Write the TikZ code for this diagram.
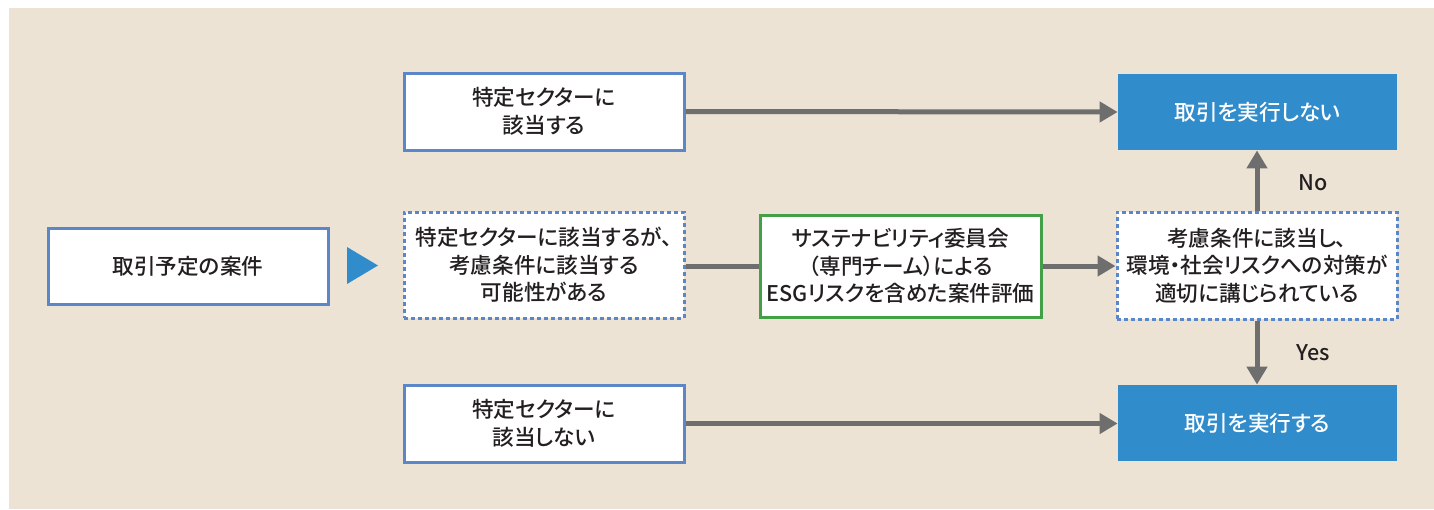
\documentclass[tikz,border=0pt]{standalone}
\usepackage{fontspec}
\setmainfont{Noto Sans CJK JP}[UprightFont=* Medium, RawFeature=+palt]
\usetikzlibrary{arrows.meta}
\definecolor{bg}{HTML}{EDE3D5}
\definecolor{bbord}{HTML}{5B87C8}
\definecolor{bfill}{HTML}{318CCB}
\definecolor{gbord}{HTML}{44A047}
\definecolor{arr}{HTML}{6E6E6E}
\definecolor{txt}{HTML}{231F20}
\tikzset{
  box/.style={draw=bbord, line width=1.5pt, fill=white, text=txt, align=center,
    font=\fontsize{10.8pt}{13.8pt}\selectfont, inner sep=0pt},
  dbox/.style={box, dash pattern=on 2pt off 1.5pt},
  gbox/.style={box, draw=gbord},
  fbox/.style={fill=bfill, text=white, align=center, inner sep=0pt,
    font=\fontsize{10.8pt}{13.8pt}\selectfont},
  conn/.style={draw=arr, line width=2.5pt},
  arrowc/.style={conn, -{Triangle[length=9pt,width=10pt]}},
  lbl/.style={text=txt, font=\fontsize{10.8pt}{12pt}\selectfont}
}
\begin{document}
\begin{tikzpicture}[x=0.5pt,y=-0.5pt]
\useasboundingbox (0,0) rectangle (1434,509);
\fill[bg] (9,8) rectangle (1434,509);
\node[box, minimum width=140pt, minimum height=38pt] (start) at (188,266) {取引予定の案件};
\fill[bfill] (347,247) -- (378,265.5) -- (347,284) -- cycle;
\node[box, minimum width=140pt, minimum height=38.5pt] (s1) at (544,111.5) {特定セクターに\\該当する};
\node[dbox, minimum width=140pt, minimum height=53pt] (s2) at (544,265) {特定セクターに該当するが、\\考慮条件に該当する\\可能性がある};
\node[box, minimum width=140pt, minimum height=38.5pt] (s3) at (544,423.5) {特定セクターに\\該当しない};
\node[gbox, minimum width=140.5pt, minimum height=51pt] (comm) at (900.5,266) {サステナビリティ委員会\\（専門チーム）による\\ESGリスクを含めた案件評価};
\node[dbox, minimum width=140pt, minimum height=53.5pt] (cond) at (1257,265.5) {考慮条件に該当し、\\環境・社会リスクへの対策が\\適切に講じられている};
\node[fbox, minimum width=139.5pt, minimum height=38pt] (no) at (1257.5,112) {取引を実行しない};
\node[fbox, minimum width=139.5pt, minimum height=38pt] (yes) at (1257.5,423) {取引を実行する};
\draw[arrowc] (s1.east) -- (no.west);
\draw[conn] (s2.east |- comm.west) -- (comm.west);
\draw[arrowc] (comm.east) -- (cond.west |- comm.east);
\draw[arrowc] (cond.north) -- (no.south -| cond.north);
\draw[arrowc] (cond.south) -- (yes.north -| cond.south);
\draw[arrowc] (s3.east) -- (yes.west |- s3.east);
\node[lbl] (nolbl) at (1313,183) {No};
\node[lbl] (yeslbl) at (1313,353) {Yes};
\end{tikzpicture}
\end{document}
